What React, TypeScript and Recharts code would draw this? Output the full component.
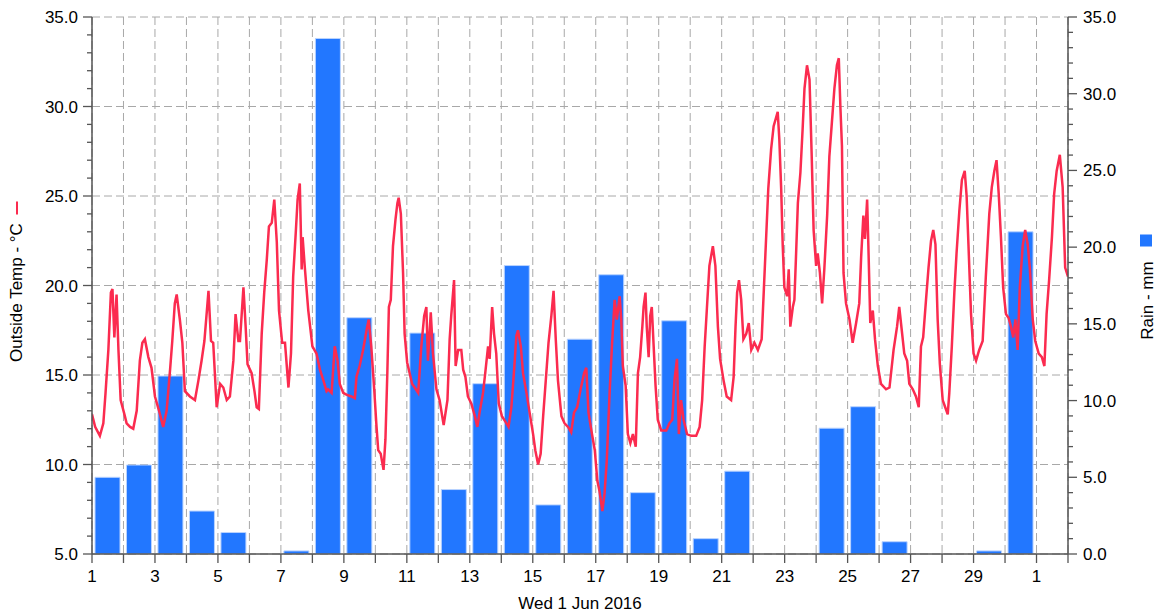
import React from 'react';
import { Bar, CartesianGrid, ComposedChart, Line, XAxis, YAxis } from 'recharts';

// Daily rain (mm), June 1..30 2016
const rainMm = [
  5.0, 5.8, 11.6, 2.8, 1.4, 0, 0.2, 33.6, 15.4, 0,
  14.4, 4.2, 11.1, 18.8, 3.2, 14.0, 18.2, 4.0, 15.2, 1.0,
  5.4, 0, 0, 8.2, 9.6, 0.8, 0, 0, 0.2, 21.0,
];

// Outside temperature: [days since 1 Jun 00:00, degC]
const tempWeek1: [number, number][] = [
  [0.0, 12.8], [0.1, 12.1], [0.25, 11.6], [0.36, 12.3], [0.43, 14.0], [0.52, 16.4], [0.6, 19.6], [0.65, 19.8],
  [0.71, 17.1], [0.78, 19.5], [0.84, 16.4], [0.91, 13.6], [1.03, 12.8], [1.1, 12.3], [1.21, 12.1], [1.31, 12.0],
  [1.42, 13.0], [1.52, 15.8], [1.6, 16.8], [1.68, 17.0], [1.79, 16.0], [1.89, 15.4], [2.0, 13.8], [2.13, 13.0],
  [2.26, 12.1], [2.37, 13.0], [2.48, 15.3], [2.55, 16.9], [2.63, 19.0], [2.69, 19.5], [2.79, 18.1], [2.87, 16.8],
  [2.95, 14.1], [3.11, 13.8], [3.27, 13.6], [3.38, 14.7], [3.48, 15.8], [3.57, 16.9], [3.64, 18.4], [3.7, 19.7],
  [3.78, 16.9], [3.85, 16.8], [3.96, 13.2], [4.07, 14.5], [4.17, 14.3], [4.28, 13.6], [4.38, 13.8], [4.49, 15.8],
  [4.56, 18.4], [4.65, 16.9], [4.7, 16.9], [4.81, 19.9], [4.88, 17.7], [4.94, 15.6], [5.07, 15.1], [5.16, 14.1],
  [5.23, 13.2], [5.3, 13.1], [5.39, 17.3], [5.47, 19.6], [5.55, 21.4], [5.62, 23.3], [5.71, 23.5], [5.79, 24.8],
  [5.87, 22.4], [5.94, 18.6], [6.04, 16.8], [6.13, 16.8], [6.24, 14.3], [6.32, 16.2], [6.39, 20.5], [6.47, 22.9],
  [6.53, 24.8], [6.6, 25.7], [6.66, 20.9], [6.69, 22.7], [6.76, 21.0], [6.87, 18.6],
];

const tempWeek2: [number, number][] = [
  [7.0, 16.6], [7.13, 16.2], [7.24, 15.3], [7.35, 14.7], [7.45, 14.1], [7.5, 14.2], [7.61, 14.0], [7.71, 16.6],
  [7.8, 15.8], [7.87, 14.5], [7.98, 14.0], [8.08, 13.9], [8.24, 13.8], [8.35, 13.7], [8.4, 14.9], [8.5, 15.5],
  [8.61, 16.4], [8.72, 17.5], [8.79, 18.1], [8.87, 16.6], [8.96, 14.3], [9.03, 12.3], [9.09, 10.8], [9.17, 10.6],
  [9.26, 9.7], [9.32, 11.4], [9.38, 15.1], [9.43, 18.8], [9.49, 19.2], [9.56, 22.2], [9.64, 23.7], [9.7, 24.6],
  [9.74, 24.9], [9.81, 24.0], [9.88, 20.7], [9.93, 17.3], [10.01, 15.7], [10.09, 15.1], [10.17, 14.5], [10.25, 14.3],
  [10.36, 14.0], [10.46, 16.6], [10.55, 18.3], [10.62, 18.8], [10.67, 15.8], [10.76, 18.5], [10.83, 16.2], [10.94, 14.2],
  [11.04, 13.6], [11.17, 12.2], [11.29, 13.6], [11.36, 17.0], [11.41, 18.3], [11.5, 20.3], [11.55, 15.5], [11.63, 16.4],
  [11.73, 16.4], [11.79, 15.3], [11.86, 14.9], [11.94, 13.8], [12.05, 13.4], [12.16, 12.7], [12.24, 12.1], [12.31, 12.9],
  [12.42, 14.0], [12.49, 15.1], [12.58, 16.6], [12.63, 15.9], [12.71, 18.8], [12.77, 17.3], [12.84, 16.2], [12.92, 13.4],
  [13.02, 12.7], [13.13, 12.4], [13.23, 12.1], [13.32, 13.2], [13.4, 15.1], [13.48, 17.2], [13.53, 17.5], [13.62, 16.6],
  [13.69, 15.1], [13.8, 14.0], [13.9, 12.9],
];

const tempWeek3: [number, number][] = [
  [14.01, 11.7], [14.08, 10.8], [14.17, 10.0], [14.25, 10.6], [14.33, 12.7], [14.43, 15.1], [14.5, 16.8], [14.59, 18.3],
  [14.66, 19.7], [14.73, 17.0], [14.8, 14.7], [14.91, 12.7], [15.01, 12.3], [15.12, 12.1], [15.22, 11.8], [15.31, 12.9],
  [15.41, 13.2], [15.52, 14.2], [15.63, 15.1], [15.7, 15.4], [15.77, 12.9], [15.88, 11.7], [15.97, 10.8], [16.05, 9.1],
  [16.12, 8.5], [16.21, 7.4], [16.28, 8.4], [16.35, 10.2], [16.44, 14.0], [16.52, 16.8], [16.6, 19.2], [16.67, 18.1],
  [16.76, 19.4], [16.81, 18.1], [16.86, 15.5], [16.95, 14.4], [17.02, 11.7], [17.1, 11.2], [17.18, 11.7], [17.27, 11.0],
  [17.34, 15.1], [17.41, 16.0], [17.48, 17.7], [17.52, 18.8], [17.58, 19.6], [17.62, 17.7], [17.68, 16.0], [17.73, 18.3],
  [17.78, 18.8], [17.84, 16.6], [17.9, 14.4], [17.97, 12.5], [18.08, 11.9], [18.24, 11.9], [18.34, 12.3], [18.43, 12.5],
  [18.5, 14.7], [18.58, 15.9], [18.64, 11.7], [18.71, 13.6], [18.79, 12.5], [18.9, 11.7], [19.03, 11.6], [19.19, 11.6],
  [19.3, 12.1], [19.38, 13.6], [19.46, 16.6], [19.53, 18.7], [19.61, 21.1], [19.72, 22.2], [19.8, 21.1], [19.88, 17.7],
  [19.95, 15.9], [20.06, 14.7], [20.16, 13.8], [20.3, 13.6], [20.38, 14.9], [20.44, 17.7], [20.49, 19.6], [20.55, 20.3],
  [20.62, 19.2], [20.69, 17.0], [20.78, 17.3], [20.86, 17.9], [20.94, 16.4],
];

const tempWeek4: [number, number][] = [
  [21.04, 16.8], [21.15, 16.4], [21.27, 17.0], [21.34, 19.8], [21.41, 22.6], [21.48, 25.4], [21.57, 27.6], [21.65, 28.9],
  [21.78, 29.7], [21.83, 28.2], [21.89, 25.4], [21.94, 22.2], [21.99, 19.9], [22.08, 19.4], [22.13, 20.9], [22.18, 17.7],
  [22.26, 18.8], [22.31, 19.2], [22.36, 21.6], [22.42, 24.6], [22.5, 26.3], [22.57, 28.7], [22.63, 31.0], [22.71, 32.3],
  [22.79, 31.5], [22.86, 27.2], [22.92, 23.1], [23.0, 21.1], [23.05, 21.8], [23.12, 20.7], [23.19, 19.0], [23.26, 20.9],
  [23.35, 23.9], [23.42, 27.2], [23.5, 29.1], [23.58, 31.0], [23.66, 32.3], [23.72, 32.7], [23.77, 30.0], [23.82, 27.8],
  [23.87, 20.7], [23.95, 19.0], [24.06, 18.1], [24.16, 16.8], [24.27, 17.9], [24.37, 19.0], [24.43, 21.6], [24.5, 23.9],
  [24.55, 22.6], [24.62, 24.8], [24.66, 22.2], [24.72, 17.9], [24.8, 18.6], [24.87, 17.0], [24.96, 15.5], [25.06, 14.5],
  [25.22, 14.2], [25.33, 14.3], [25.46, 16.4], [25.57, 17.7], [25.64, 18.8], [25.72, 17.5], [25.8, 16.2], [25.89, 15.8],
  [25.96, 14.5], [26.07, 14.2], [26.17, 13.8], [26.26, 13.2], [26.33, 16.6], [26.4, 17.1], [26.49, 19.2], [26.57, 21.0],
  [26.65, 22.5], [26.72, 23.1], [26.79, 22.3], [26.86, 18.1], [26.93, 15.6],
];

const tempWeek5: [number, number][] = [
  [27.02, 13.6], [27.1, 13.2], [27.18, 12.8], [27.23, 14.0], [27.31, 16.6], [27.39, 19.6], [27.46, 21.8], [27.55, 24.2],
  [27.63, 25.9], [27.72, 26.4], [27.78, 25.0], [27.84, 22.2], [27.92, 18.4], [28.0, 16.2], [28.08, 15.8], [28.18, 16.4],
  [28.29, 16.9], [28.39, 20.5], [28.5, 24.0], [28.58, 25.5], [28.66, 26.4], [28.73, 27.0], [28.8, 25.1], [28.87, 22.7],
  [28.94, 19.9], [29.03, 18.4], [29.11, 18.2], [29.19, 17.7], [29.26, 17.1], [29.33, 18.1], [29.4, 16.4], [29.47, 19.9],
  [29.56, 22.2], [29.64, 23.1], [29.72, 22.3], [29.79, 20.9], [29.88, 18.1], [29.96, 16.9], [30.07, 16.2], [30.17, 16.0],
  [30.25, 15.5], [30.32, 18.4], [30.4, 20.3], [30.49, 22.7], [30.56, 25.1], [30.64, 26.4], [30.74, 27.3], [30.83, 25.5],
  [30.91, 21.0], [31.0, 20.5],
];

const xTickDays = Array.from({ length: 32 }, (_, i) => i);
const tempTicks = Array.from({ length: 31 }, (_, i) => 5 + i);
const rainTicks = Array.from({ length: 36 }, (_, i) => i);

const tempData = [...tempWeek1, ...tempWeek2, ...tempWeek3, ...tempWeek4, ...tempWeek5].map(([t, temp]) => ({ t, temp }));
const rainData = rainMm.map((rain, i) => ({ t: i + 0.5, rain }));

const AXIS = '#555';
const GRID = '#a8a8a8';
const RED = '#fb2b4f';
const BLUE = '#2277ff';
const FONT = '"Liberation Sans", Arial, sans-serif';
const FS = 17;
const TICK_LEN = 9;
const MINOR_LEN = 5;

const dayLabel = (v: number) => {
  if (v % 2 !== 0) return '';
  return String(v < 30 ? v + 1 : v - 29);
};

function LeftTick(props: any) {
  const { x, y, payload } = props;
  const v = payload.value as number;
  const major = v % 5 === 0;
  const ax = x + TICK_LEN + 5;
  return (
    <g>
      <line x1={ax - (major ? TICK_LEN : MINOR_LEN)} x2={ax} y1={y} y2={y} stroke={AXIS} strokeWidth={1.3} />
      {major && (
        <text x={x} y={y} dy="0.355em" textAnchor="end" fill="#000" fontSize={FS} fontFamily={FONT}>
          {v.toFixed(1)}
        </text>
      )}
    </g>
  );
}

function RightTick(props: any) {
  const { x, y, payload } = props;
  const v = payload.value as number;
  const major = v % 5 === 0;
  const ax = x - TICK_LEN - 6;
  return (
    <g>
      <line x1={ax} x2={ax + (major ? TICK_LEN : MINOR_LEN)} y1={y} y2={y} stroke={AXIS} strokeWidth={1.3} />
      {major && (
        <text x={x} y={y} dy="0.355em" textAnchor="start" fill="#000" fontSize={FS} fontFamily={FONT}>
          {v.toFixed(1)}
        </text>
      )}
    </g>
  );
}

// axis titles: legend swatch + rotated text, centred together on the plot height
function TempTitle(props: any) {
  const { viewBox } = props;
  const cy = viewBox.y + viewBox.height / 2 + 7;
  return (
    <g transform={`translate(22, ${cy}) rotate(-90)`}>
      <text x={0} y={0} textAnchor="middle" fontSize={FS} fontFamily={FONT} fill="#000">
        Outside Temp - °C
      </text>
      <line x1={78} x2={91} y1={-5} y2={-5} stroke={RED} strokeWidth={2} />
    </g>
  );
}

function RainTitle(props: any) {
  const { viewBox } = props;
  const cy = viewBox.y + viewBox.height / 2 + 15;
  return (
    <g transform={`translate(1153, ${cy}) rotate(-90)`}>
      <text x={0} y={0} textAnchor="middle" fontSize={FS} fontFamily={FONT} fill="#000">
        Rain - mm
      </text>
      <rect x={54} y={-13} width={12} height={12} fill={BLUE} />
    </g>
  );
}

export default function App() {
  return (
    <div style={{ position: 'absolute', left: 0, top: 0, background: '#fff' }}>
      <ComposedChart width={1159} height={612} data={rainData} margin={{ top: 17, right: 0, left: 0, bottom: 0 }}>
        <CartesianGrid
          xAxisId="time"
          yAxisId="temp"
          stroke={GRID}
          strokeDasharray="8 4"
          horizontalValues={[5, 10, 15, 20, 25, 30, 35]}
        />
        <XAxis
          xAxisId="time"
          dataKey="t"
          type="number"
          domain={[0, 31]}
          ticks={xTickDays}
          interval={0}
          allowDataOverflow
          tickFormatter={dayLabel}
          tickSize={TICK_LEN}
          tickMargin={7}
          height={58}
          stroke={AXIS}
          axisLine={{ stroke: AXIS, strokeWidth: 1.5 }}
          tickLine={{ stroke: AXIS, strokeWidth: 1.3 }}
          tick={{ fill: '#000', fontSize: FS, fontFamily: FONT }}
          label={{ value: 'Wed 1 Jun 2016', position: 'insideBottom', offset: 3, fill: '#000', fontSize: FS, fontFamily: FONT }}
        />
        <XAxis xAxisId="rain" dataKey="t" type="number" domain={[0, 31]} orientation="top" height={0} hide allowDataOverflow />
        <YAxis
          yAxisId="temp"
          orientation="left"
          type="number"
          domain={[5, 35]}
          ticks={tempTicks}
          interval={0}
          allowDataOverflow
          width={92}
          tickSize={TICK_LEN}
          tickMargin={5}
          tickLine={false}
          axisLine={{ stroke: AXIS, strokeWidth: 1.5 }}
          tick={<LeftTick />}
          label={<TempTitle />}
        />
        <YAxis
          yAxisId="rain"
          orientation="right"
          type="number"
          domain={[0, 35]}
          ticks={rainTicks}
          interval={0}
          allowDataOverflow
          width={91}
          tickSize={TICK_LEN}
          tickMargin={6}
          tickLine={false}
          axisLine={{ stroke: AXIS, strokeWidth: 1.5 }}
          tick={<RightTick />}
          label={<RainTitle />}
        />
        <Bar
          xAxisId="rain"
          yAxisId="rain"
          dataKey="rain"
          barSize={25}
          fill={BLUE}
          stroke="#b9d3ff"
          strokeWidth={1}
          isAnimationActive={false}
        />
        <Line
          xAxisId="time"
          yAxisId="temp"
          data={tempData}
          dataKey="temp"
          type="linear"
          stroke={RED}
          strokeWidth={2.5}
          dot={false}
          activeDot={false}
          isAnimationActive={false}
        />
      </ComposedChart>
    </div>
  );
}
